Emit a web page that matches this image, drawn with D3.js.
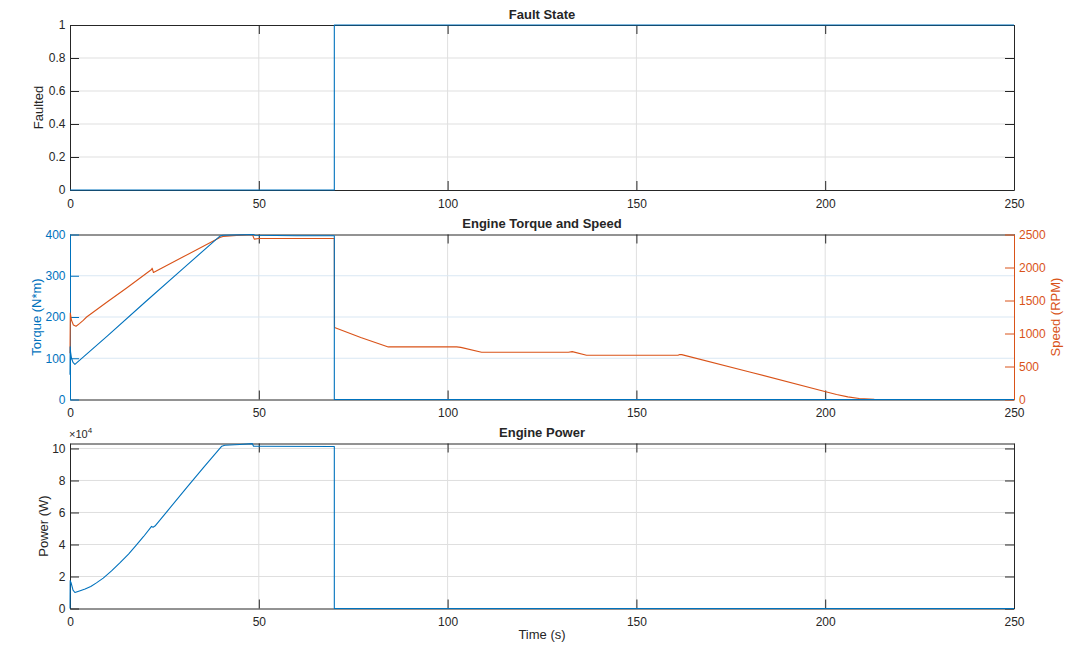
<!DOCTYPE html>
<html>
<head>
<meta charset="utf-8">
<script src="https://cdn.jsdelivr.net/npm/d3@7"></script>
<style>
  html, body { margin: 0; padding: 0; background: #fff; }
  svg { display: block; font-family: "Liberation Sans", Arial, Helvetica, sans-serif; }
</style>
</head>
<body>
<svg id="chart" width="1074" height="647"></svg>
<script>
// ---------------- DATA ----------------
const timeTicks = [0, 50, 100, 150, 200, 250];

const faultTime = [0, 70, 70, 250];
const faultVal  = [0, 0, 1, 1];
const faultTicks = [0, 0.2, 0.4, 0.6, 0.8, 1];

const torqueTime = [0, 0.05, 0.15, 0.4, 0.8, 1.3, 10, 20, 30, 39.7, 40.5, 45, 48.5, 49, 60, 70, 70, 250];
const torqueVal  = [60, 128, 115, 100, 90, 85, 155, 237, 318, 396, 398, 399, 400, 398, 397, 397, 0, 0];
const torqueTicks = [0, 100, 200, 300, 400];

const speedTime = [0, 0.08, 0.4, 0.9, 1.6, 2.5, 3.5, 4.4, 10, 15, 21.6, 21.75, 22.1, 30, 39.7, 40.5, 45, 48.3, 48.8, 50, 70, 70.05,
                   77, 84.3, 102.4, 103.5, 109, 132, 133, 136.8, 161, 161.5, 162, 180, 200.4, 203, 206, 209, 213, 218, 250];
const speedVal  = [700, 1310, 1200, 1130, 1110, 1150, 1200, 1250, 1485, 1690, 1970, 1990, 1924, 2162, 2454, 2470, 2490, 2500, 2430, 2440, 2440, 1091,
                   940, 797, 797, 790, 717, 717, 725, 671, 671, 682, 680, 418, 115, 75, 40, 15, 4, 0, 0];
const speedTicks = [0, 500, 1000, 1500, 2000, 2500];

const powerTime = [0, 0.05, 0.3, 0.8, 1.3, 2.5, 4, 5.5, 7, 8.8, 11, 13.2, 15.5, 17.5, 19.5, 21.6, 22.0, 22.5,
                   26, 30.9, 35.5, 40.2, 41, 45, 48.3, 48.6, 70, 70, 250];
const powerVal  = [0, 17400, 16000, 11500, 10000, 11000, 12200, 13800, 16000, 19000, 23500, 28500, 34000, 39500, 45000, 51300, 50800, 51500,
                   61500, 75500, 88500, 101400, 102000, 102500, 103000, 101400, 101200, 0, 0];
const powerTicks = [0, 20000, 40000, 60000, 80000, 100000];

// ---------------- STYLE ----------------
const BLUE = "#0072BD", ORANGE = "#D95319", TXT = "#262626", GRID = "#dfdfdf", GRIDBLUE = "#d9e7f3";
const L = 70, R = 1014, H = 165;
const tops = [25, 234.5, 443.5];
const TICK = 9;

const svg = d3.select("#chart");
const x = d3.scaleLinear().domain([0, 250]).range([L, R]);

function gridLines(g, y, yTicks, hColor) {
  g.selectAll(null).data(timeTicks.slice(1, -1)).enter().append("line")
    .attr("x1", d => x(d)).attr("x2", d => x(d))
    .attr("y1", y.range()[1]).attr("y2", y.range()[0])
    .attr("stroke", GRID).attr("stroke-width", 1);
  g.selectAll(null).data(yTicks.filter(t => y(t) > y.range()[1] + 1 && y(t) < y.range()[0] - 1)).enter().append("line")
    .attr("x1", L).attr("x2", R)
    .attr("y1", d => y(d)).attr("y2", d => y(d))
    .attr("stroke", hColor).attr("stroke-width", 1);
}

function xAxes(g, top, showLabels) {
  const bottom = top + H;
  const ax = d3.axisBottom(x).tickValues(timeTicks).tickSizeInner(-TICK).tickSizeOuter(0).tickPadding(9);
  const gb = g.append("g").attr("transform", `translate(0,${bottom})`).call(ax);
  gb.select(".domain").attr("stroke", TXT);
  gb.selectAll(".tick line").attr("stroke", TXT);
  gb.selectAll(".tick text").attr("fill", TXT).attr("font-size", 12)
    .style("font-family", "'Liberation Sans', Arial, sans-serif");
  if (!showLabels) gb.selectAll(".tick text").remove();
  const axt = d3.axisTop(x).tickValues(timeTicks).tickSizeInner(-TICK).tickSizeOuter(0).tickFormat("");
  const gt = g.append("g").attr("transform", `translate(0,${top})`).call(axt);
  gt.select(".domain").attr("stroke", TXT);
  gt.selectAll(".tick line").attr("stroke", TXT);
}

function yAxis(g, y, ticks, side, color, fmt) {
  const ax = (side === "left" ? d3.axisLeft(y) : d3.axisRight(y))
    .tickValues(ticks).tickSizeInner(-TICK).tickSizeOuter(0).tickPadding(side === "left" ? 4.5 : 5);
  ax.tickFormat(fmt || d3.format("d"));
  const ga = g.append("g").attr("transform", `translate(${side === "left" ? L : R},0)`).call(ax);
  ga.select(".domain").attr("stroke", color);
  ga.selectAll(".tick line").attr("stroke", color);
  ga.selectAll(".tick text").attr("fill", color).attr("font-size", 12)
    .style("font-family", "'Liberation Sans', Arial, sans-serif");
  return ga;
}

function title(text, top) {
  svg.append("text").attr("x", (L + R) / 2).attr("y", top - 6.5).attr("text-anchor", "middle")
    .attr("font-size", 13).attr("font-weight", "bold").attr("fill", TXT).text(text);
}

function yLabel(text, cx, cy, color) {
  svg.append("text").attr("transform", `translate(${cx},${cy}) rotate(-90)`)
    .attr("text-anchor", "middle").attr("dy", "0.35em")
    .attr("font-size", 13).attr("fill", color).text(text);
}

function drawLine(g, xs, ys, y, color) {
  const pts = xs.map((t, i) => [t, ys[i]]);
  g.append("path").datum(pts)
    .attr("d", d3.line().x(d => x(d[0])).y(d => y(d[1])))
    .attr("fill", "none").attr("stroke", color).attr("stroke-width", 1.1)
    .attr("stroke-linejoin", "round");
}

// ---------------- PANEL 1: Fault State ----------------
{
  const top = tops[0];
  const y = d3.scaleLinear().domain([0, 1]).range([top + H, top]);
  const g = svg.append("g");
  gridLines(g, y, faultTicks, GRID);
  xAxes(g, top, true);
  yAxis(g, y, faultTicks, "left", TXT, d3.format("~g"));
  const gr = g.append("g").attr("transform", `translate(${R},0)`)
    .call(d3.axisLeft(y).tickValues(faultTicks).tickSizeInner(TICK).tickSizeOuter(0).tickFormat(""));
  gr.select(".domain").attr("stroke", TXT);
  gr.selectAll(".tick line").attr("stroke", TXT);
  drawLine(g, faultTime, faultVal, y, BLUE);
  title("Fault State", top);
  yLabel("Faulted", 38, top + H / 2, TXT);
}

// ---------------- PANEL 2: Engine Torque and Speed ----------------
{
  const top = tops[1];
  const yT = d3.scaleLinear().domain([0, 400]).range([top + H, top]);
  const yS = d3.scaleLinear().domain([0, 2500]).range([top + H, top]);
  const g = svg.append("g");
  gridLines(g, yT, torqueTicks, GRIDBLUE);
  xAxes(g, top, true);
  yAxis(g, yT, torqueTicks, "left", BLUE);
  yAxis(g, yS, speedTicks, "right", ORANGE);
  drawLine(g, speedTime, speedVal, yS, ORANGE);
  drawLine(g, torqueTime, torqueVal, yT, BLUE);
  title("Engine Torque and Speed", top);
  yLabel("Torque (N*m)", 36, top + H / 2, BLUE);
  yLabel("Speed (RPM)", 1055, top + H / 2, ORANGE);
}

// ---------------- PANEL 3: Engine Power ----------------
{
  const top = tops[2];
  const y = d3.scaleLinear().domain([0, 103100]).range([top + H, top]);
  const g = svg.append("g");
  gridLines(g, y, powerTicks, GRID);
  xAxes(g, top, true);
  yAxis(g, y, powerTicks, "left", TXT, d => d / 1e4);
  const gr = g.append("g").attr("transform", `translate(${R},0)`)
    .call(d3.axisLeft(y).tickValues(powerTicks).tickSizeInner(TICK).tickSizeOuter(0).tickFormat(""));
  gr.select(".domain").attr("stroke", TXT);
  gr.selectAll(".tick line").attr("stroke", TXT);
  drawLine(g, powerTime, powerVal, y, BLUE);
  title("Engine Power", top);
  yLabel("Power (W)", 43, top + H / 2, TXT);
  const ex = svg.append("text").attr("x", 69).attr("y", top - 5.5).attr("font-size", 11).attr("fill", TXT);
  ex.append("tspan").text("×10");
  ex.append("tspan").attr("font-size", 8).attr("dy", -5).text("4");
  svg.append("text").attr("x", (L + R) / 2).attr("y", top + H + 30).attr("text-anchor", "middle")
    .attr("font-size", 13).attr("fill", TXT).text("Time (s)");
}
</script>
</body>
</html>
